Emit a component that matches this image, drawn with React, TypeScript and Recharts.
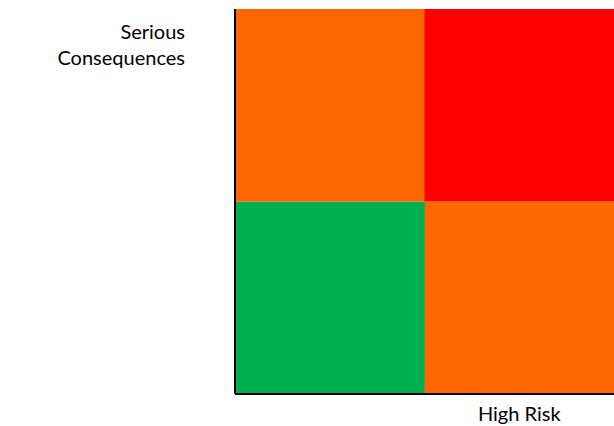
import { BarChart, Bar, XAxis, YAxis, Cell } from "recharts"

// Risk matrix: two risk columns, each split into two consequence bands
const riskLevels = ["Low Risk", "High Risk"]
const lowConsequence = [1, 1]
const seriousConsequence = [1, 1]
const lowConsequenceColors = ["#00B050", "#FF6600"]
const seriousConsequenceColors = ["#FF6600", "#FF0000"]
const yTicks = [2]

const chartData = riskLevels.map((risk, i) => ({
  risk,
  low: lowConsequence[i],
  serious: seriousConsequence[i],
}))

const FONT = "Lato, 'Open Sans', sans-serif"

const ConsequenceTick = ({ x, y }: any) => (
  <text x={x - 42} y={y} textAnchor="end" fill="#000" fontSize={20} fontFamily={FONT}>
    <tspan x={x - 42} dy={30}>Serious</tspan>
    <tspan x={x - 42} dy={26}>Consequences</tspan>
  </text>
)

const RiskTick = ({ x, y, payload }: any) =>
  payload.value === "High Risk" ? (
    <text x={x} y={y} textAnchor="middle" fill="#000" fontSize={20} fontFamily={FONT}>
      <tspan x={x} dy={19}>{payload.value}</tspan>
    </text>
  ) : null

export default function App() {
  return (
    <div style={{ position: "absolute", left: 0, top: 0, width: 614, height: 426, background: "#fff" }}>
      <BarChart
        width={614}
        height={426}
        data={chartData}
        margin={{ top: 9, right: 0, left: 0, bottom: 0 }}
        barCategoryGap={0}
        barGap={0}
      >
        <XAxis
          dataKey="risk"
          height={32}
          axisLine={{ stroke: "#000", strokeWidth: 2 }}
          tickLine={false}
          tick={<RiskTick />}
        />
        <YAxis
          width={235}
          domain={[0, 2]}
          ticks={yTicks}
          axisLine={{ stroke: "#000", strokeWidth: 2 }}
          tickLine={false}
          tick={<ConsequenceTick />}
        />
        <Bar dataKey="low" stackId="m" isAnimationActive={false}>
          {chartData.map((d, i) => (
            <Cell key={d.risk} fill={lowConsequenceColors[i]} />
          ))}
        </Bar>
        <Bar dataKey="serious" stackId="m" isAnimationActive={false}>
          {chartData.map((d, i) => (
            <Cell key={d.risk} fill={seriousConsequenceColors[i]} />
          ))}
        </Bar>
      </BarChart>
    </div>
  )
}
